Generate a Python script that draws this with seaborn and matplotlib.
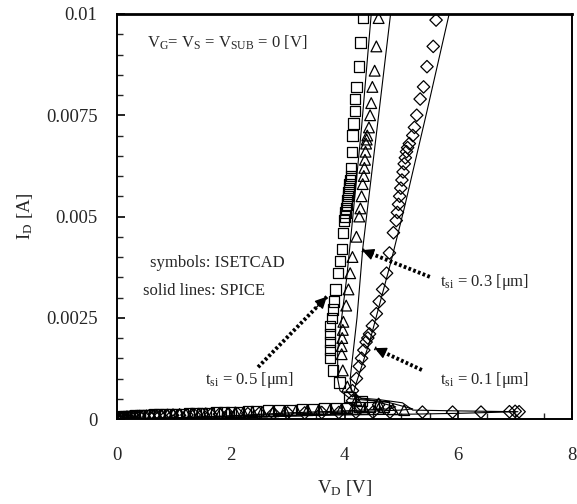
import numpy as np
import pandas as pd
import matplotlib
matplotlib.use('Agg')
import matplotlib.pyplot as plt
import seaborn as sns
from matplotlib.ticker import MultipleLocator

# ISETCAD symbols, t_si = 0.5 um (squares): pre-trigger part, then snapback branch
sq_base_v = [0.00, 0.03, 0.06, 0.10, 0.15, 0.20, 0.26, 0.32, 0.40, 0.48, 0.56, 0.65, 0.74,
             0.84, 0.94, 1.04, 1.15, 1.26, 1.38, 1.50, 1.62, 1.75, 1.88, 2.01, 2.15, 2.30,
             2.45, 2.65, 2.85, 3.05, 3.25, 3.45, 3.65, 3.85, 4.05, 4.25, 4.45, 4.70]
sq_base_i = [0.00001, 0.00003, 0.00005, 0.00006, 0.00007, 0.00008, 0.00008, 0.00009,
             0.00009, 0.00010, 0.00010, 0.00011, 0.00011, 0.00012, 0.00012, 0.00013,
             0.00013, 0.00014, 0.00014, 0.00015, 0.00015, 0.00016, 0.00016, 0.00017,
             0.00018, 0.00019, 0.00020, 0.00021, 0.00022, 0.00023, 0.00024, 0.00025,
             0.00026, 0.00027, 0.00028, 0.00029, 0.00030, 0.00031]
sq_snap_v = [4.30, 4.09, 3.91, 3.80, 3.75, 3.74, 3.74, 3.74, 3.75, 3.78, 3.80, 3.81, 3.84,
             3.88, 3.92, 3.95, 3.97, 3.99, 4.01, 4.02, 4.03, 4.04, 4.05, 4.06, 4.07, 4.08,
             4.09, 4.10, 4.11, 4.12, 4.13, 4.14, 4.16, 4.18, 4.19, 4.21, 4.25, 4.28, 4.32]
sq_snap_i = [0.00045, 0.00055, 0.00090, 0.00120, 0.00150, 0.00170, 0.00190, 0.00210,
             0.00230, 0.00250, 0.00270, 0.00290, 0.00320, 0.00360, 0.00390, 0.00420,
             0.00460, 0.00490, 0.00500, 0.00510, 0.00520, 0.00530, 0.00540, 0.00550,
             0.00560, 0.00570, 0.00580, 0.00590, 0.00600, 0.00620, 0.00660, 0.00700,
             0.00730, 0.00760, 0.00790, 0.00820, 0.00870, 0.00930, 0.00990]

# ISETCAD symbols, t_si = 0.3 um (triangles)
tr_base_v = [0.02, 0.08, 0.12, 0.18, 0.23, 0.29, 0.36, 0.44, 0.52, 0.61, 0.70, 0.79, 0.89,
             0.99, 1.10, 1.21, 1.32, 1.44, 1.56, 1.69, 1.82, 1.95, 2.08, 2.22, 2.38, 2.55,
             2.75, 2.95, 3.15, 3.35, 3.55, 3.75, 3.95, 4.15, 4.35, 4.60, 4.85, 5.05]
tr_base_i = [0.00002, 0.00004, 0.00005, 0.00006, 0.00007, 0.00007, 0.00008, 0.00008,
             0.00009, 0.00009, 0.00010, 0.00010, 0.00011, 0.00011, 0.00012, 0.00012,
             0.00013, 0.00013, 0.00014, 0.00014, 0.00015, 0.00015, 0.00016, 0.00016,
             0.00017, 0.00018, 0.00019, 0.00020, 0.00021, 0.00022, 0.00023, 0.00024,
             0.00025, 0.00025, 0.00025, 0.00025, 0.00024, 0.00022]
tr_snap_v = [4.60, 4.21, 4.05, 3.97, 3.95, 3.95, 3.96, 3.97, 3.98, 4.03, 4.07, 4.10, 4.14,
             4.21, 4.26, 4.28, 4.30, 4.32, 4.34, 4.35, 4.36, 4.37, 4.38, 4.39, 4.40, 4.43,
             4.45, 4.47, 4.49, 4.53, 4.56, 4.60]
tr_snap_i = [0.00038, 0.00047, 0.00080, 0.00120, 0.00160, 0.00180, 0.00200, 0.00220,
             0.00240, 0.00280, 0.00320, 0.00360, 0.00400, 0.00450, 0.00500, 0.00520,
             0.00550, 0.00580, 0.00600, 0.00620, 0.00640, 0.00660, 0.00680, 0.00690,
             0.00700, 0.00720, 0.00750, 0.00780, 0.00820, 0.00860, 0.00920, 0.00990]

# ISETCAD symbols, t_si = 0.1 um (diamonds)
di_base_v = [0.00, 0.05, 0.11, 0.17, 0.24, 0.31, 0.39, 0.47, 0.56, 0.66, 0.76, 0.87, 0.98,
             1.10, 1.23, 1.36, 1.50, 1.65, 1.80, 1.96, 2.12, 2.30, 2.50, 2.75, 3.00, 3.30,
             3.60, 3.90, 4.20, 4.50, 4.80, 5.37, 5.90, 6.40, 6.90, 7.00, 7.07]
di_base_i = [0.00001, 0.00002, 0.00003, 0.00004, 0.00005, 0.00005, 0.00006, 0.00006,
             0.00007, 0.00007, 0.00008, 0.00008, 0.00009, 0.00009, 0.00010, 0.00010,
             0.00011, 0.00011, 0.00012, 0.00012, 0.00013, 0.00013, 0.00014, 0.00014,
             0.00015, 0.00015, 0.00016, 0.00016, 0.00017, 0.00017, 0.00017, 0.00017,
             0.00017, 0.00017, 0.00018, 0.00019, 0.00018]
di_snap_v = [4.60, 4.14, 4.14, 4.21, 4.26, 4.30, 4.34, 4.38, 4.41, 4.44, 4.49, 4.56, 4.61,
             4.67, 4.74, 4.79, 4.86, 4.91, 4.93, 4.95, 4.97, 4.99, 5.01, 5.03, 5.05, 5.07,
             5.09, 5.11, 5.14, 5.20, 5.23, 5.27, 5.33, 5.39, 5.45, 5.56, 5.61]
di_snap_i = [0.00035, 0.00045, 0.00070, 0.00100, 0.00130, 0.00150, 0.00170, 0.00190,
             0.00200, 0.00210, 0.00230, 0.00260, 0.00290, 0.00320, 0.00360, 0.00410,
             0.00460, 0.00490, 0.00510, 0.00530, 0.00550, 0.00570, 0.00590, 0.00610,
             0.00630, 0.00645, 0.00660, 0.00670, 0.00680, 0.00700, 0.00720, 0.00750,
             0.00790, 0.00820, 0.00870, 0.00920, 0.00985]

# SPICE solid lines
sp5_v = [0.0, 1.0, 2.0, 3.0, 4.0, 4.8, 4.9, 4.5, 4.1, 3.92, 3.88, 3.88, 3.95, 4.04, 4.14, 4.30, 4.47]
sp5_i = [0.0, 0.00003, 0.00008, 0.00015, 0.00020, 0.00025, 0.00030, 0.00045, 0.00050, 0.00070,
         0.00100, 0.00170, 0.00250, 0.00350, 0.00490, 0.00720, 0.01000]
sp3_v = [0.0, 1.0, 2.0, 3.0, 4.0, 5.0, 5.2, 4.8, 4.3, 4.12, 4.10, 4.14, 4.22, 4.32, 4.43, 4.60, 4.81]
sp3_i = [0.0, 0.00003, 0.00007, 0.00012, 0.00017, 0.00022, 0.00025, 0.00040, 0.00050, 0.00070,
         0.00100, 0.00150, 0.00250, 0.00420, 0.00550, 0.00750, 0.01000]
sp1_v = [0.0, 2.0, 4.0, 5.2, 6.0, 7.05, 6.0, 5.2, 5.02, 4.6, 4.26, 4.15, 4.21, 4.44, 4.82, 5.05, 5.45, 5.84]
sp1_i = [0.0, 0.00005, 0.00010, 0.00012, 0.00014, 0.00018, 0.00020, 0.00022, 0.00040, 0.00048,
         0.00052, 0.00060, 0.00090, 0.00190, 0.00390, 0.00520, 0.00760, 0.01000]

x_ticks = [0, 2, 4, 6, 8]
x_labels = ['0', '2', '4', '6', '8']
y_ticks = [0, 0.0025, 0.005, 0.0075, 0.01]
y_labels = ['0', '0.0025', '0.005', '0.0075', '0.01']

sns.set_style('ticks')
plt.rcParams['font.family'] = ['Liberation Serif', 'DejaVu Serif']
plt.rcParams['mathtext.fontset'] = 'custom'
plt.rcParams['mathtext.rm'] = 'Liberation Serif'
plt.rcParams['mathtext.it'] = 'Liberation Serif:italic'

fig = plt.figure(figsize=(5.77, 5.04), dpi=100)
ax = fig.add_axes([117 / 577, 1 - 419 / 504, 455 / 577, 405 / 504])

# solid lines (SPICE)
for v, i in [(sp5_v, sp5_i), (sp3_v, sp3_i), (sp1_v, sp1_i)]:
    sns.lineplot(x=v, y=i, sort=False, estimator=None, color='black', linewidth=0.8, ax=ax)

# symbols (ISETCAD)
sym_kw = dict(facecolor='none', edgecolor='black', linewidth=0.9, ax=ax)
sns.scatterplot(x=sq_base_v + sq_snap_v, y=sq_base_i + sq_snap_i, marker='s', s=55, **sym_kw)
sns.scatterplot(x=tr_base_v + tr_snap_v, y=tr_base_i + tr_snap_i, marker='^', s=60, **sym_kw)
sns.scatterplot(x=di_base_v + di_snap_v, y=di_base_i + di_snap_i, marker='D', s=40, **sym_kw)

ax.set_xlim(0, 8)
ax.set_ylim(0, 0.01)
ax.set_xticks(x_ticks)
ax.set_xticklabels(x_labels)
ax.set_yticks(y_ticks)
ax.set_yticklabels(y_labels)
ax.xaxis.set_minor_locator(MultipleLocator(0.5))
ax.yaxis.set_minor_locator(MultipleLocator(0.0005))
ax.tick_params(axis='both', which='major', direction='in', length=6, width=1.2,
               labelsize=13.5, color='black')
ax.tick_params(axis='both', which='minor', direction='in', length=4, width=1.0)
ax.tick_params(axis='y', which='major', pad=14)
ax.tick_params(axis='x', which='major', pad=20)
for sp in ax.spines.values():
    sp.set_visible(True)
    sp.set_linewidth(1.4)
    sp.set_color('black')
ax.spines['top'].set_linewidth(2.0)

ax.set_xlabel(r'V$_{\rm D}$ [V]', fontsize=13.5, labelpad=10)
ax.set_ylabel(r'I$_{\rm D}$ [A]', fontsize=13.5, labelpad=8)

fs = 12
ax.text(0.53, 0.00928, r'V$_{\rm G}$= V$_{\rm S}$ = V$_{\rm SUB}$ = 0 [V]', fontsize=fs,
        ha='left', va='center')
ax.text(0.58, 0.00385, 'symbols: ISETCAD', fontsize=fs, ha='left', va='center')
ax.text(0.46, 0.00316, 'solid lines: SPICE', fontsize=fs, ha='left', va='center')
ax.text(1.55, 0.00096, r't$_{\rm si}$ = 0.5 [μm]', fontsize=fs, ha='left', va='center')
ax.text(5.68, 0.00338, r't$_{\rm si}$ = 0.3 [μm]', fontsize=fs, ha='left', va='center')
ax.text(5.68, 0.00096, r't$_{\rm si}$ = 0.1 [μm]', fontsize=fs, ha='left', va='center')

# dotted arrows
arrows = [((2.48, 0.00128), (3.69, 0.00302)),
          ((5.50, 0.00351), (4.31, 0.00417)),
          ((5.36, 0.00121), (4.53, 0.00175))]
for tail, head in arrows:
    ax.plot([tail[0], head[0]], [tail[1], head[1]], color='black', lw=2.8,
            linestyle=(0, (0.7, 0.6)), solid_capstyle='butt')
    ax.annotate('', xy=head, xytext=(head[0] + (tail[0] - head[0]) * 0.15,
                                     head[1] + (tail[1] - head[1]) * 0.15),
                arrowprops=dict(arrowstyle='-|>,head_length=0.7,head_width=0.35', lw=1.0,
                                color='black', shrinkA=0, shrinkB=0))

fig.savefig('out.png', dpi=100)
